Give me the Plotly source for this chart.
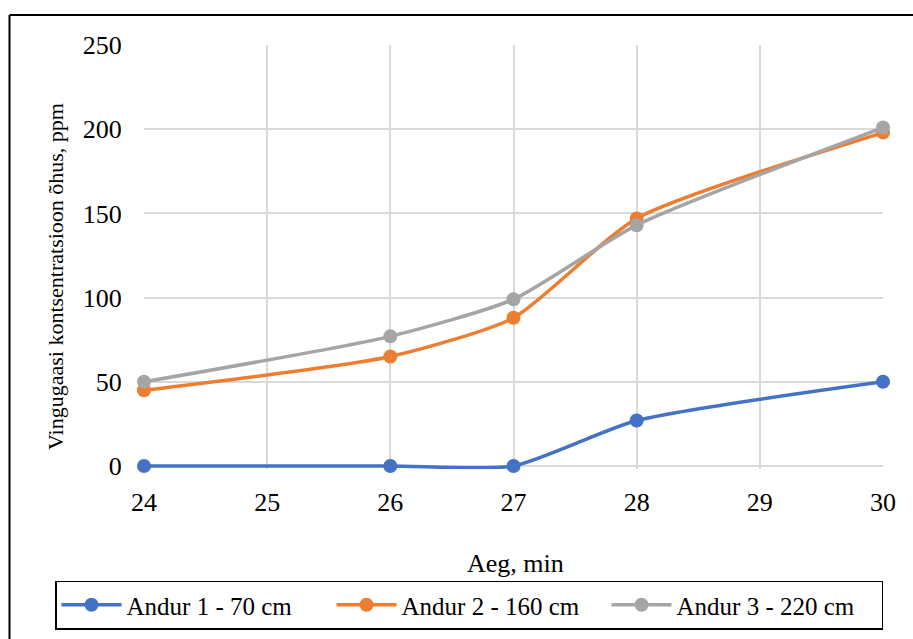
import plotly.graph_objects as go

# Time (min) and measured gas concentration in air (ppm) for three sensors
aeg = [24, 26, 27, 28, 30]
andur1 = [0, 0, 0, 27, 50]
andur2 = [45, 65, 88, 147, 198]
andur3 = [50, 77, 99, 143, 201]

series = [
    ("Andur 1 - 70 cm", andur1, "#4472C4"),
    ("Andur 2 - 160 cm", andur2, "#ED7D31"),
    ("Andur 3 - 220 cm", andur3, "#A5A5A5"),
]

x_ticks = [24, 25, 26, 27, 28, 29, 30]
y_ticks = [0, 50, 100, 150, 200, 250]

x_title = "Aeg, min"
y_title = "Vingugaasi kontsentratsioon õhus, ppm"

FONT = "Liberation Serif, Times New Roman, serif"

fig = go.Figure()
for name, vals, color in series:
    fig.add_trace(go.Scatter(
        x=aeg, y=vals, name=name, mode="lines+markers", cliponaxis=False,
        line=dict(color=color, width=3.5, shape="spline", smoothing=0.6),
        marker=dict(color=color, size=14),
    ))

W, H = 913, 639
L, R, T, B = 144, 30, 45, 170
pw, ph = W - L - R, H - T - B
# a few pixels of room below zero so the baseline series is drawn at full width
y_low = 250 - 250 * ph / 421

def px_x(px):
    return (px - L) / pw

def px_y(py):
    return (H - B - py) / ph

fig.update_layout(
    width=W, height=H,
    margin=dict(l=L, r=R, t=T, b=B, autoexpand=False),
    paper_bgcolor="white", plot_bgcolor="white",
    font=dict(family=FONT, size=25, color="black"),
    showlegend=True,
    legend=dict(
        orientation="h", xref="paper", yref="paper",
        x=px_x(55), xanchor="left", y=px_y(605), yanchor="middle",
        bordercolor="black", borderwidth=1.5, bgcolor="white",
        font=dict(family=FONT, size=25, color="black"),
        entrywidth=200, itemwidth=60,
    ),
    xaxis=dict(
        range=[24, 30], tickvals=x_ticks, showgrid=True, gridcolor="#D9D9D9",
        gridwidth=1.5, zeroline=False, showline=False,
        ticks="outside", ticklen=10, tickcolor="rgba(0,0,0,0)",
        tickfont=dict(size=26),
    ),
    yaxis=dict(
        range=[y_low, 250], tickvals=y_ticks, showgrid=True, gridcolor="#D9D9D9",
        gridwidth=1.5, zeroline=False, showline=False,
        ticks="outside", ticklen=16, tickcolor="rgba(0,0,0,0)",
        tickfont=dict(size=26),
    ),
    annotations=[
        dict(text=x_title, xref="paper", yref="paper", x=px_x(515), y=px_y(563),
             xanchor="center", yanchor="middle", showarrow=False,
             font=dict(family=FONT, size=26)),
        dict(text=y_title, xref="paper", yref="paper", x=px_x(55), y=px_y(277),
             xanchor="center", yanchor="middle", showarrow=False, textangle=-90,
             font=dict(family=FONT, size=22)),
    ],
    shapes=[
        dict(type="line", xref="paper", yref="paper",
             x0=px_x(9.5), x1=px_x(920), y0=px_y(15), y1=px_y(15),
             line=dict(color="black", width=2)),
        dict(type="line", xref="paper", yref="paper",
             x0=px_x(9.5), x1=px_x(9.5), y0=px_y(15), y1=px_y(650),
             line=dict(color="black", width=2)),
    ],
)

fig.write_html("out.html")
